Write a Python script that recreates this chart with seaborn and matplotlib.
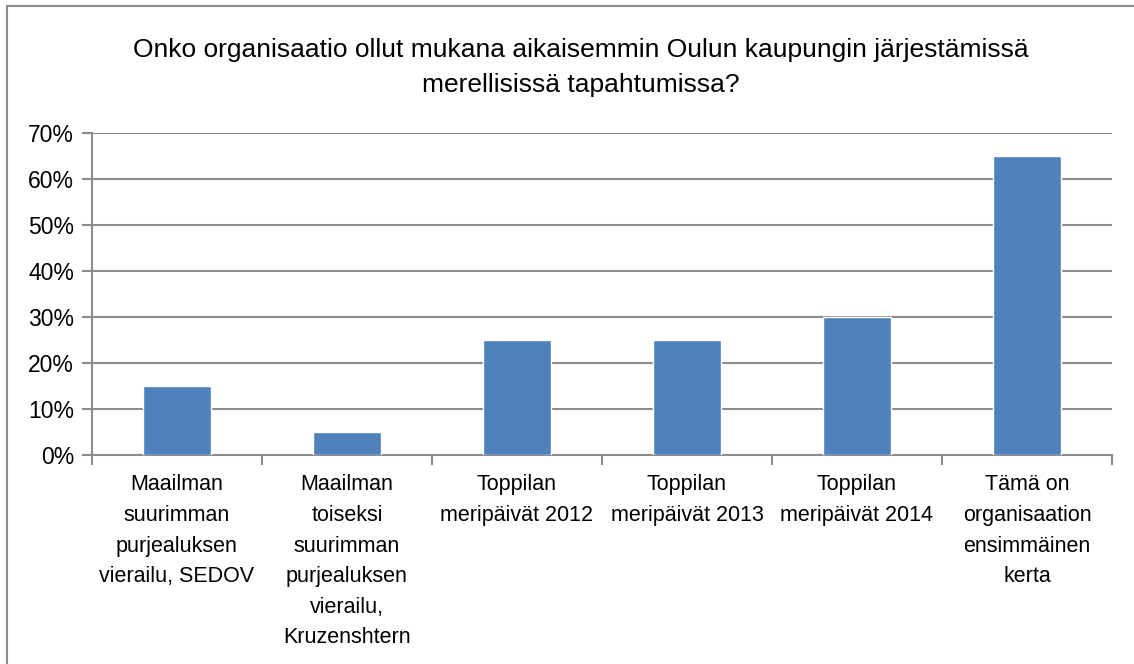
import matplotlib

matplotlib.use("Agg")
import matplotlib.pyplot as plt
import numpy as np
import pandas as pd
import seaborn as sns
from matplotlib.patches import Rectangle
from matplotlib.ticker import FixedLocator, PercentFormatter

TITLE = ("Onko organisaatio ollut mukana aikaisemmin Oulun kaupungin järjestämissä\n"
         "merellisissä tapahtumissa?")

categories = [
    "Maailman\nsuurimman\npurjealuksen\nvierailu, SEDOV",
    "Maailman\ntoiseksi\nsuurimman\npurjealuksen\nvierailu,\nKruzenshtern",
    "Toppilan\nmeripäivät 2012",
    "Toppilan\nmeripäivät 2013",
    "Toppilan\nmeripäivät 2014",
    "Tämä on\norganisaation\nensimmäinen\nkerta",
]
shares = [0.15, 0.05, 0.25, 0.25, 0.30, 0.65]
y_ticks = [0.0, 0.1, 0.2, 0.3, 0.4, 0.5, 0.6, 0.7]

BAR_COLOR = "#4F81BD"
GRID_COLOR = "#8C8C8C"

sns.set_theme(style="white")
plt.rcParams["font.family"] = ["Liberation Sans", "DejaVu Sans"]
plt.rcParams["text.color"] = "black"
plt.rcParams["xtick.labelcolor"] = "black"
plt.rcParams["ytick.labelcolor"] = "black"

df = pd.DataFrame({"category": categories, "share": shares})

fig = plt.figure(figsize=(11.34, 6.64), dpi=100)
ax = fig.add_axes([0.0811, 0.3148, 0.8995, 0.4849])

sns.barplot(data=df, x="category", y="share", color=BAR_COLOR, width=0.4,
            saturation=1, ax=ax, zorder=3)

ax.set_xlim(-0.5, len(categories) - 0.5)
ax.set_ylim(0, 0.7)
ax.yaxis.set_major_locator(FixedLocator(y_ticks))
ax.yaxis.set_major_formatter(PercentFormatter(1.0, decimals=0))
ax.grid(axis="y", color=GRID_COLOR, linewidth=1.5, zorder=0)
ax.set_axisbelow(True)
ax.set_xlabel("")
ax.set_ylabel("")

for side in ("top", "right"):
    ax.spines[side].set_visible(False)
for side in ("left", "bottom"):
    ax.spines[side].set_color(GRID_COLOR)
    ax.spines[side].set_linewidth(1.5)

# category labels centred, tick marks at the category boundaries
ax.tick_params(axis="x", which="major", length=0, pad=14, labelsize=15.5,
               labelcolor="black")
ax.set_xticks(np.arange(-0.5, len(categories)), minor=True)
ax.tick_params(axis="x", which="minor", length=7, width=1.5, color=GRID_COLOR,
               direction="out", bottom=True)
ax.tick_params(axis="y", length=7, width=1.5, color=GRID_COLOR, direction="out",
               left=True, labelsize=16.5, pad=6, labelcolor="black")
for lbl in ax.get_xticklabels():
    lbl.set_linespacing(1.6)
    lbl.set_verticalalignment("top")

fig.text(0.512, 0.898, TITLE, ha="center", va="center", fontsize=19,
         linespacing=1.6, color="black")

# outer chart frame (clipped on the right and bottom)
fig.patches.append(Rectangle((7 / 1134, -0.1), 1.2, 1 - 6 / 664 + 0.1,
                             transform=fig.transFigure, fill=False,
                             edgecolor=GRID_COLOR, linewidth=1.5))

fig.savefig("out.png", dpi=100)
